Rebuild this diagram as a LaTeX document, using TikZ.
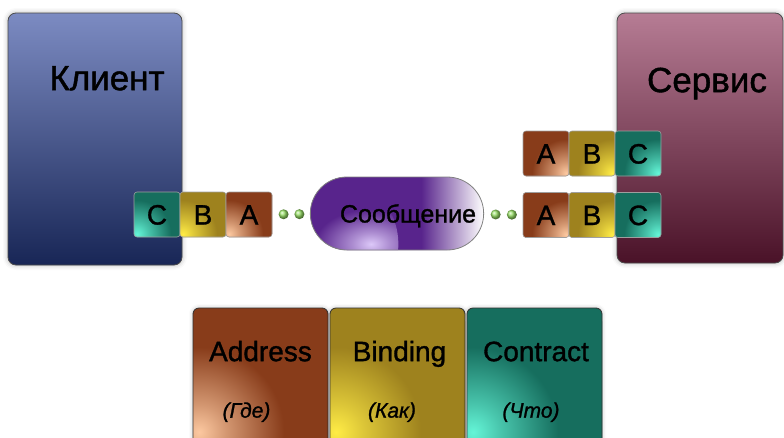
\documentclass[tikz,border=0pt]{standalone}
\usepackage{fontspec}
\setmainfont{Liberation Sans}[UprightFeatures={FakeBold=1.2}, ItalicFeatures={FakeBold=1.2}]
\usetikzlibrary{positioning,shapes.misc,shadows.blur,decorations.markings}

\definecolor{clienttop}{RGB}{124,139,194}
\definecolor{clientbot}{RGB}{24,38,86}
\definecolor{servicetop}{RGB}{182,124,148}
\definecolor{servicebot}{RGB}{74,18,40}
\definecolor{abrown}{RGB}{136,60,26}
\definecolor{aglow}{RGB}{252,200,160}
\definecolor{bolive}{RGB}{158,130,30}
\definecolor{bglow}{RGB}{255,236,70}
\definecolor{cteal}{RGB}{22,110,94}
\definecolor{cglow}{RGB}{100,245,215}
\definecolor{msgpurple}{RGB}{88,36,140}
\definecolor{msgglow}{RGB}{220,200,248}
\definecolor{dotgreen}{RGB}{150,222,100}
\colorlet{glowin}{white}
\colorlet{glowout}{black}

\pgfdeclarehorizontalshading{msgshade}{100bp}{color(0bp)=(msgpurple); color(25bp)=(msgpurple); color(57bp)=(msgpurple); color(75bp)=(white); color(100bp)=(white)}
\pgfdeclareradialshading[glowin,glowout]{glow}{\pgfpoint{0bp}{0bp}}{color(0bp)=(glowin); color(4bp)=(glowin!65!glowout); color(12.5bp)=(glowout); color(50bp)=(glowout)}

\tikzstyle{party} = [rectangle, rounded corners=8pt, minimum width=174pt, minimum height=252pt, draw=gray!60!black, line width=0.8pt, blur shadow={shadow xshift=0pt, shadow yshift=0pt, shadow blur radius=5pt, shadow opacity=30}]
\tikzstyle{title} = [font=\fontsize{35}{40}\selectfont, text height=25pt, text depth=0pt]
\tikzstyle{letter} = [rectangle, rounded corners=3pt, minimum width=46pt, minimum height=45pt, draw=gray!75, line width=0.6pt, font=\fontsize{28}{32}\selectfont, text height=20pt, text depth=0pt]
\tikzstyle{msgpill} = [rounded rectangle, minimum width=180pt, minimum height=73pt, draw=gray, line width=0.8pt, shading=msgshade, path picture={\colorlet{glowin}{msgglow}\colorlet{glowout}{msgpurple}\shade[shading=glow] ([shift={(18pt,6pt)}]path picture bounding box.south west) circle (70pt);}]
\tikzstyle{msgtext} = [font=\fontsize{25}{30}\selectfont, text height=18pt, text depth=0pt]
\tikzstyle{aspect} = [rectangle, rounded corners=6pt, minimum width=135pt, minimum height=138pt, draw=gray!40!black, line width=0.8pt, blur shadow={shadow xshift=0pt, shadow yshift=0pt, shadow blur radius=4pt, shadow opacity=25}]
\tikzstyle{aspecttitle} = [font=\fontsize{28}{32}\selectfont, text height=20pt, text depth=0pt]
\tikzstyle{aspectnote} = [font=\fontsize{21}{26}\selectfont\itshape, text height=15pt, text depth=0pt]
\tikzstyle{dots} = [decoration={markings, mark=at position 0.3 with {\shade[ball color=dotgreen] (0,0) circle (5pt);}, mark=at position 0.72 with {\shade[ball color=dotgreen] (0,0) circle (5pt);}}, decorate]

\tikzset{
  glowsw/.style 2 args={fill=#1, path picture={\colorlet{glowin}{#2}\colorlet{glowout}{#1}\shade[shading=glow] ([shift={(3pt,3pt)}]path picture bounding box.south west) circle (68pt);}},
  glowse/.style 2 args={fill=#1, path picture={\colorlet{glowin}{#2}\colorlet{glowout}{#1}\shade[shading=glow] ([shift={(-3pt,3pt)}]path picture bounding box.south east) circle (68pt);}},
  bigglow/.style 2 args={fill=#1, path picture={\colorlet{glowin}{#2}\colorlet{glowout}{#1}\shade[shading=glow] ([shift={(6pt,14pt)}]path picture bounding box.south west) circle (170pt);}}
}

\begin{document}
\begin{tikzpicture}[x=1pt, y=-1pt, node distance=46pt]
\useasboundingbox (0,0) rectangle (784,437);

\node (client) [party, top color=clienttop, bottom color=clientbot] at (95,139) {};
\node (service) [party, minimum width=166pt, minimum height=250pt, top color=servicetop, bottom color=servicebot] at (700,138) {};
\node (clienttitle) [title, below=49pt of client.north, xshift=12pt] {Клиент};
\node (servicetitle) [title, below=51pt of service.north, xshift=7pt] {Сервис};

\node (clientc) [letter, glowsw={cteal}{cglow}] at (157,214.5) {C};
\node (clientb) [letter, glowsw={bolive}{bglow}, right of=clientc] {B};
\node (clienta) [letter, glowsw={abrown}{aglow}, right of=clientb] {A};

\node (servicea) [letter, glowse={abrown}{aglow}] at (546,215) {A};
\node (serviceb) [letter, glowse={bolive}{bglow}, right of=servicea] {B};
\node (servicec) [letter, glowse={cteal}{cglow}, right of=serviceb] {C};
\node (endpointa) [letter, glowse={abrown}{aglow}, node distance=61.5pt, above of=servicea] {A};
\node (endpointb) [letter, glowse={bolive}{bglow}, right of=endpointa] {B};
\node (endpointc) [letter, glowse={cteal}{cglow}, right of=endpointb] {C};

\node (message) [msgpill] at (397,213.5) {};
\node (messagetext) [msgtext, node distance=11pt, right of=message] {Сообщение};

\path [dots] (clienta) -- (message);
\path [dots] (message) -- (servicea);

\node (address) [aspect, bigglow={abrown}{aglow}] at (260.5,377) {};
\node (binding) [aspect, bigglow={bolive}{bglow}, node distance=137pt, right of=address] {};
\node (contract) [aspect, bigglow={cteal}{cglow}, node distance=137pt, right of=binding] {};

\node (addresstitle) [aspecttitle, below=30pt of address.north] {Address};
\node (bindingtitle) [aspecttitle, below=30pt of binding.north, xshift=2pt] {Binding};
\node (contracttitle) [aspecttitle, below=30pt of contract.north, xshift=1.5pt] {Contract};
\node (addresswhere) [aspectnote, node distance=59pt, below of=addresstitle, xshift=-14pt] {(Где)};
\node (bindinghow) [aspectnote, node distance=59pt, below of=bindingtitle, xshift=-7.5pt] {(Как)};
\node (contractwhat) [aspectnote, node distance=59pt, below of=contracttitle, xshift=-5pt] {(Что)};

\end{tikzpicture}
\end{document}
